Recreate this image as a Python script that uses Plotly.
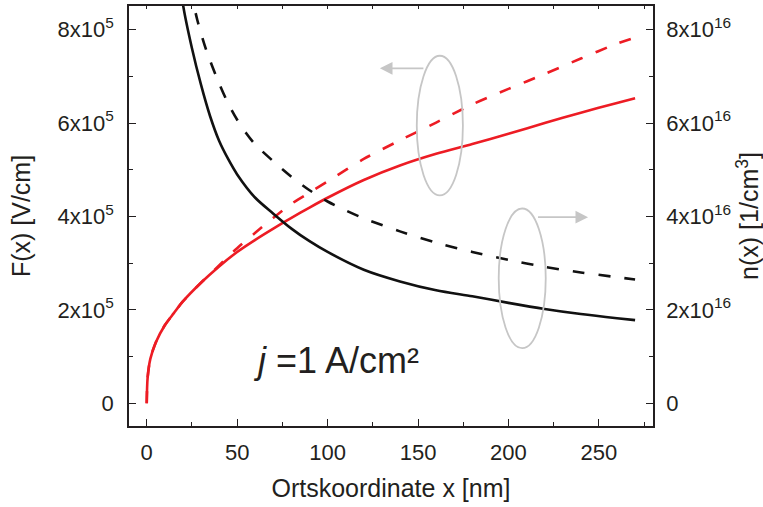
import plotly.graph_objects as go

# ---- data ----
x_F = [0, 0.5, 2, 5, 10, 15, 20, 30, 40, 50, 60, 70, 80, 90, 100, 120, 140, 160, 180, 200, 220, 240, 260, 270]
F_solid = [0, 0.55e5, 0.95e5, 1.30e5, 1.67e5, 1.93e5, 2.18e5, 2.58e5, 2.93e5, 3.24e5, 3.50e5, 3.74e5, 3.97e5,
           4.19e5, 4.40e5, 4.78e5, 5.09e5, 5.34e5, 5.55e5, 5.77e5, 6.00e5, 6.22e5, 6.43e5, 6.53e5]
F_dashed = [0, 0.55e5, 0.95e5, 1.30e5, 1.67e5, 1.93e5, 2.18e5, 2.58e5, 2.95e5, 3.32e5, 3.65e5, 3.97e5, 4.27e5,
            4.51e5, 4.75e5, 5.23e5, 5.63e5, 6.01e5, 6.40e5, 6.73e5, 7.05e5, 7.38e5, 7.70e5, 7.83e5]

x_n_solid = [18, 20, 25, 30, 35, 40, 45, 50, 60, 70, 80, 90, 100, 120, 140, 160, 180, 200, 220, 240, 260, 270]
n_solid = [9.3e16, 8.55e16, 7.6e16, 6.82e16, 6.15e16, 5.62e16, 5.23e16, 4.90e16, 4.40e16, 4.06e16, 3.74e16,
           3.47e16, 3.24e16, 2.86e16, 2.61e16, 2.42e16, 2.29e16, 2.15e16, 2.02e16, 1.91e16, 1.82e16, 1.78e16]

x_n_dashed = [24, 28, 33, 40, 45, 50, 55, 60, 70, 80, 90, 100, 110, 120, 140, 160, 180, 200, 220, 240, 260, 270]
n_dashed = [8.9e16, 8.2e16, 7.55e16, 6.85e16, 6.42e16, 6.07e16, 5.78e16, 5.54e16, 5.18e16, 4.85e16, 4.56e16,
            4.32e16, 4.13e16, 3.96e16, 3.68e16, 3.44e16, 3.24e16, 3.07e16, 2.92e16, 2.80e16, 2.70e16, 2.65e16]

F_ticks = [0, 2e5, 4e5, 6e5, 8e5]
F_ticktext = ["0", "2x10<sup>5</sup>", "4x10<sup>5</sup>", "6x10<sup>5</sup>", "8x10<sup>5</sup>"]
n_ticks = [0, 2e16, 4e16, 6e16, 8e16]
n_ticktext = ["0", "2x10<sup>16</sup>", "4x10<sup>16</sup>", "6x10<sup>16</sup>", "8x10<sup>16</sup>"]
x_ticks = [0, 50, 100, 150, 200, 250]

# ---- style ----
FONT = "Liberation Sans, Arial, sans-serif"
TXT = "#231f20"
AX = "#231f20"
RED = "#ed1c24"
BLK = "#111111"
GRAY = "#c6c6c6"
LW = 2.6
DASH = "12px,14px"
TICKSIZE = 22
TITLESIZE = 25

x_range = [-9.8, 279.9]
F_range = [-0.486e5, 8.505e5]
n_range = [F_range[0] * 1e11, F_range[1] * 1e11]

fig = go.Figure()
fig.add_trace(go.Scatter(x=x_F, y=F_solid, mode="lines", line=dict(color=RED, width=LW, shape="spline", smoothing=0.8), yaxis="y"))
fig.add_trace(go.Scatter(x=x_F, y=F_dashed, mode="lines", line=dict(color=RED, width=LW, dash=DASH, shape="spline", smoothing=0.8), yaxis="y"))
fig.add_trace(go.Scatter(x=x_n_solid, y=n_solid, mode="lines", line=dict(color=BLK, width=LW, shape="spline", smoothing=0.8), yaxis="y2"))
fig.add_trace(go.Scatter(x=x_n_dashed, y=n_dashed, mode="lines", line=dict(color=BLK, width=LW, dash=DASH, shape="spline", smoothing=0.8), yaxis="y2"))
# invisible trace to activate top axis
fig.add_trace(go.Scatter(x=[0], y=[0], mode="lines", xaxis="x2", yaxis="y", showlegend=False,
                         hoverinfo="skip", line=dict(width=0)))

axis_common = dict(showline=True, linecolor=AX, linewidth=1.6, ticks="inside", tickcolor=AX, tickwidth=1.4,
                   showgrid=False, zeroline=False, automargin=False,
                   tickfont=dict(family=FONT, size=TICKSIZE, color=TXT))

fig.update_layout(
    width=763, height=507,
    margin=dict(l=129, r=110, t=6, b=81, autoexpand=False),
    plot_bgcolor="white", paper_bgcolor="white",
    showlegend=False,
    font=dict(family=FONT, color=TXT),
    xaxis=dict(range=x_range, tickvals=x_ticks, ticklen=7, ticklabelstandoff=6,
               minor=dict(tickvals=[25, 75, 125, 175, 225, 275], ticklen=4, ticks="inside", tickcolor=AX, tickwidth=1.2),
               title=dict(text="Ortskoordinate x [nm]", font=dict(family=FONT, size=TITLESIZE, color=TXT), standoff=15),
               **axis_common),
    xaxis2=dict(overlaying="x", matches="x", side="top", showline=True, linecolor=AX, linewidth=1.6,
                ticks="inside", tickcolor=AX, tickwidth=1.0, ticklen=3, automargin=False,
                tickvals=[0, 25, 50, 75, 100, 125, 150, 175, 200, 225, 250, 275],
                showticklabels=False, showgrid=False, zeroline=False, range=x_range),
    yaxis=dict(range=F_range, tickvals=F_ticks, ticktext=F_ticktext, ticklen=7, ticklabelstandoff=9,
               minor=dict(tickvals=[1e5, 3e5, 5e5, 7e5], ticklen=4, ticks="inside", tickcolor=AX, tickwidth=1.2),
               title=dict(text="F(x) [V/cm]", font=dict(family=FONT, size=TITLESIZE, color=TXT), standoff=20),
               **axis_common),
    yaxis2=dict(range=n_range, overlaying="y", side="right", tickvals=n_ticks, ticktext=n_ticktext, ticklen=7,
                ticklabelstandoff=7,
                minor=dict(tickvals=[1e16, 3e16, 5e16, 7e16], ticklen=4, ticks="inside", tickcolor=AX, tickwidth=1.2),
                title=dict(text="n(x) [1/cm<sup>3</sup>]", font=dict(family=FONT, size=TITLESIZE, color=TXT), standoff=19),
                **axis_common),
)

# ellipses grouping the curves
fig.add_shape(type="circle", xref="x", yref="y", x0=149.3, x1=174.8, y0=4.45e5, y1=7.44e5,
              line=dict(color=GRAY, width=1.8))
fig.add_shape(type="circle", xref="x", yref="y", x0=194.6, x1=220.6, y0=1.18e5, y1=4.17e5,
              line=dict(color=GRAY, width=1.8))

# arrows pointing to respective axes
fig.add_annotation(x=128.9, y=7.17e5, ax=153.8, ay=7.17e5, xref="x", yref="y", axref="x", ayref="y",
                   text="", showarrow=True, arrowhead=2, arrowsize=1.4, arrowwidth=1.8, arrowcolor=GRAY)
fig.add_annotation(x=244.0, y=3.985e5, ax=215.5, ay=3.985e5, xref="x", yref="y", axref="x", ayref="y",
                   text="", showarrow=True, arrowhead=2, arrowsize=1.4, arrowwidth=1.8, arrowcolor=GRAY)

fig.add_annotation(x=104.5, y=0.92e5, xref="x", yref="y", text="<i>j</i> =1 A/cm²", showarrow=False,
                   font=dict(family=FONT, size=36, color=TXT))

fig.write_html("out.html")
